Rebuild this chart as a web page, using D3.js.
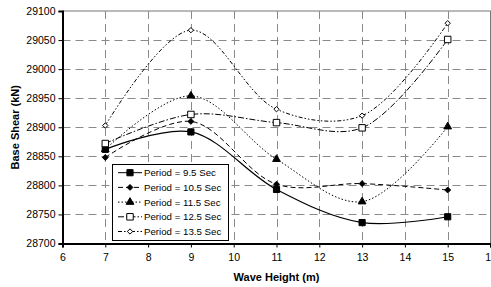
<!DOCTYPE html>
<html>
<head>
<meta charset="utf-8">
<script src="https://cdn.jsdelivr.net/npm/d3@7"></script>
<style>
    body { margin: 0; background: #fff; }
    text { font-family: Arial, 'Liberation Sans', sans-serif; }
</style>
</head>
<body>
<div id="shear-chart"></div>
<script>
///////////// DATA
var waveHeights = [7, 9, 11, 13, 15];
var periodNames = ['Period = 9.5 Sec', 'Period = 10.5 Sec', 'Period = 11.5 Sec', 'Period = 12.5 Sec', 'Period = 13.5 Sec'];
var shear95 = [28862, 28892, 28793, 28736, 28746];
var shear105 = [28848, 28910, 28802, 28803, 28792];
var shear115 = [28862, 28954, 28845, 28772, 28901];
var shear125 = [28872, 28922, 28908, 28899, 29051];
var shear135 = [28903, 29067, 28931, 28920, 29079];
var xTicks = [6, 7, 8, 9, 10, 11, 12, 13, 14, 15, 16];
var yTicks = [28700, 28750, 28800, 28850, 28900, 28950, 29000, 29050, 29100];

var seriesValues = [shear95, shear105, shear115, shear125, shear135];

// line + marker look for each period
var styles = [
    { dash: null, symbol: d3.symbolSquare, size: 38, fill: '#000' },
    { dash: '5,3', symbol: d3.symbolDiamond2, size: 22, fill: '#000' },
    { dash: '1.5,2', symbol: d3.symbolTriangle, size: 26, fill: '#000' },
    { dash: '6,2,1.5,2', symbol: d3.symbolSquare, size: 42, fill: '#fff' },
    { dash: '4,2,1.5,2,1.5,2', symbol: d3.symbolDiamond2, size: 18, fill: '#fff' }
];

makeChart();

function makeChart() {
    var fullwidth = 491;
    var fullheight = 287;
    var margin = { top: 11, right: 0.5, bottom: 43.5, left: 62.5 };
    var width = fullwidth - margin.left - margin.right;
    var height = fullheight - margin.top - margin.bottom;

    var svg = d3.select('#shear-chart')
        .append('svg')
        .attr('width', fullwidth)
        .attr('height', fullheight);

    var x = d3.scaleLinear().domain([6, 16]).range([margin.left, margin.left + width]);
    var y = d3.scaleLinear().domain([28700, 29100]).range([margin.top + height, margin.top]);

    // plot frame (top/right)
    svg.append('rect')
        .attr('x', x(6))
        .attr('y', y(29100))
        .attr('width', x(16) - x(6))
        .attr('height', y(28700) - y(29100))
        .attr('fill', '#fff')
        .attr('stroke', '#777')
        .attr('stroke-width', 1);

    // gridlines
    var grid = svg.append('g').attr('stroke', '#8a8a8a').attr('stroke-dasharray', '8,5');
    grid.selectAll('.hgrid')
        .data(yTicks.slice(1, -1))
        .enter().append('line')
        .attr('x1', x(6)).attr('x2', x(16))
        .attr('y1', function(d) { return Math.round(y(d)) + 0.5; })
        .attr('y2', function(d) { return Math.round(y(d)) + 0.5; });
    grid.selectAll('.vgrid')
        .data(xTicks.slice(1, -1))
        .enter().append('line')
        .attr('y1', y(29100)).attr('y2', y(28700))
        .attr('x1', function(d) { return Math.round(x(d)) + 0.5; })
        .attr('x2', function(d) { return Math.round(x(d)) + 0.5; });

    // axes
    var yAxis = d3.axisLeft(y).tickValues(yTicks).tickSize(4).tickPadding(3).tickFormat(d3.format('d'));
    var xAxis = d3.axisBottom(x).tickValues(xTicks).tickSize(4).tickPadding(6).tickFormat(d3.format('d'));

    var ya = svg.append('g').attr('transform', 'translate(' + x(6) + ',0)').call(yAxis);
    var xa = svg.append('g').attr('transform', 'translate(0,' + y(28700) + ')').call(xAxis);
    [ya, xa].forEach(function(a) {
        a.select('.domain').attr('stroke', '#000').attr('stroke-width', 2);
        a.selectAll('.tick line').attr('stroke', '#000');
        a.selectAll('text').attr('font-size', 10.5).attr('fill', '#000')
            .attr('font-family', 'Arial, Liberation Sans, sans-serif');
    });

    // series
    var line = d3.line()
        .x(function(d) { return x(d.h); })
        .y(function(d) { return y(d.v); })
        .curve(d3.curveCatmullRom.alpha(0.5));

    seriesValues.forEach(function(vals, i) {
        var pts = waveHeights.map(function(h, j) { return { h: h, v: vals[j] }; });
        var st = styles[i];
        svg.append('path')
            .datum(pts)
            .attr('d', line)
            .attr('fill', 'none')
            .attr('stroke', '#000')
            .attr('stroke-width', i === 0 ? 1.2 : 1)
            .attr('stroke-dasharray', st.dash);
        svg.selectAll('.m' + i)
            .data(pts)
            .enter().append('path')
            .attr('transform', function(d) { return 'translate(' + x(d.h) + ',' + y(d.v) + ')'; })
            .attr('d', d3.symbol().type(st.symbol).size(st.size))
            .attr('fill', st.fill)
            .attr('stroke', '#000')
            .attr('stroke-width', 1);
    });

    // legend
    var lg = svg.append('g');
    lg.append('rect')
        .attr('x', 112.5).attr('y', 164.5)
        .attr('width', 116).attr('height', 76)
        .attr('fill', '#fff')
        .attr('stroke', '#000');
    periodNames.forEach(function(name, i) {
        var st = styles[i];
        var ly = 172.7 + i * 14.7;
        lg.append('line')
            .attr('x1', 118).attr('x2', 142)
            .attr('y1', ly).attr('y2', ly)
            .attr('stroke', '#000')
            .attr('stroke-dasharray', st.dash);
        lg.append('path')
            .attr('transform', 'translate(130,' + ly + ')')
            .attr('d', d3.symbol().type(st.symbol).size(st.size))
            .attr('fill', st.fill)
            .attr('stroke', '#000');
        lg.append('text')
            .attr('x', 144).attr('y', ly + 3.6)
            .attr('font-size', 9.7)
            .text(name);
    });

    // axis titles
    svg.append('text')
        .attr('x', x(11)).attr('y', 281)
        .attr('text-anchor', 'middle')
        .attr('font-size', 11).attr('font-weight', 'bold')
        .text('Wave Height (m)');
    svg.append('text')
        .attr('transform', 'translate(19,' + (y(28900)) + ') rotate(-90)')
        .attr('text-anchor', 'middle')
        .attr('font-size', 11).attr('font-weight', 'bold')
        .text('Base Shear (kN)');
}
</script>
</body>
</html>
